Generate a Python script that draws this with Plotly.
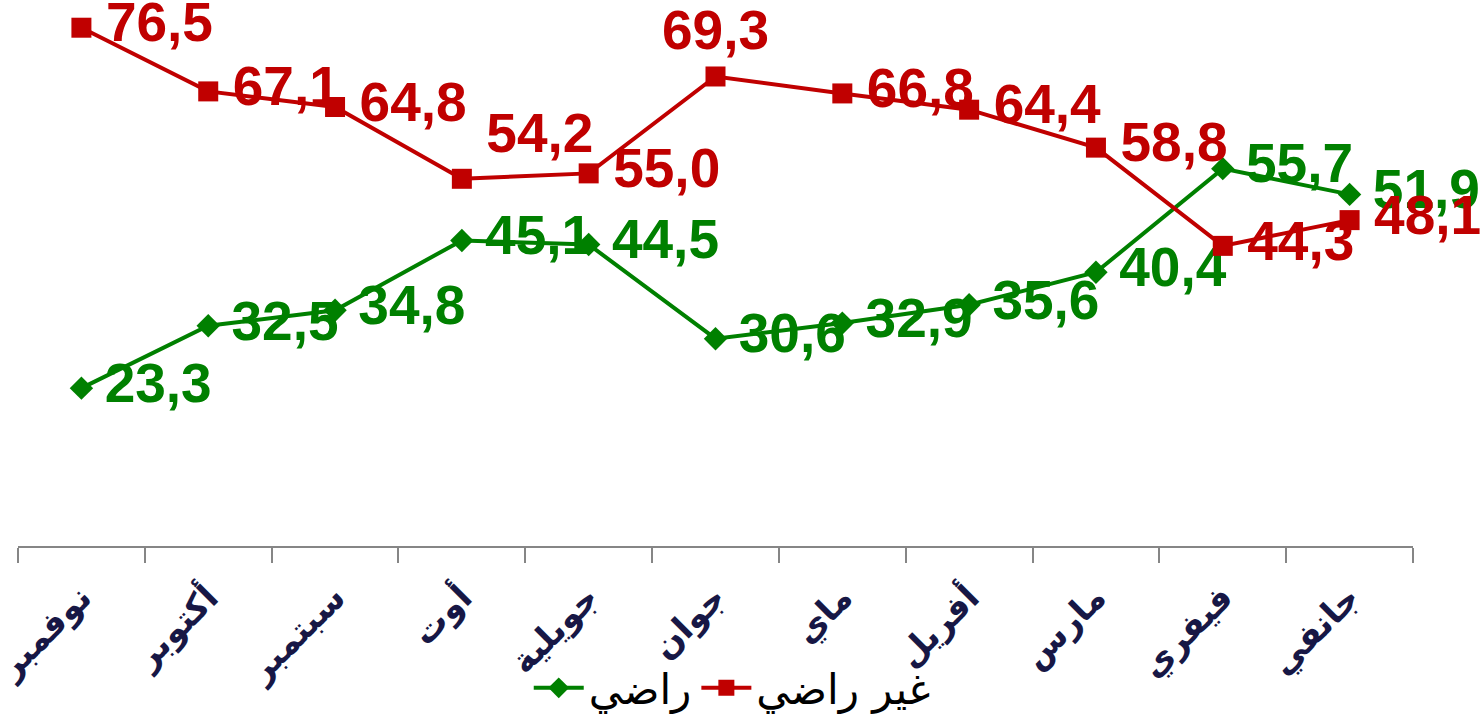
import plotly.graph_objects as go

months = ["نوفمبر", "أكتوبر", "سبتمبر", "أوت", "جويلية", "جوان", "ماي", "أفريل", "مارس", "فيفري", "جانفي"]
satisfied = [23.3, 32.5, 34.8, 45.1, 44.5, 30.6, 32.9, 35.6, 40.4, 55.7, 51.9]
unsatisfied = [76.5, 67.1, 64.8, 54.2, 55.0, 69.3, 66.8, 64.4, 58.8, 44.3, 48.1]
name_sat = "راضي"
name_unsat = "غير راضي"

green = "#008000"
red = "#C00000"

pos_sat = ["middle right"] * 11
pos_unsat = ["middle right"] * 11
pos_unsat[3] = "top right"
pos_unsat[5] = "top center"

tmpl_sat = ["\u2009%{y:.1f}"] * 11
tmpl_unsat = ["\u2009%{y:.1f}"] * 11
tmpl_unsat[5] = "%{y:.1f}"

fig = go.Figure()
fig.add_trace(go.Scatter(
    x=months, y=satisfied, name=name_sat, mode="lines+markers+text",
    line=dict(color=green, width=4),
    marker=dict(symbol="diamond", size=18, color=green),
    texttemplate=tmpl_sat, textposition=pos_sat, cliponaxis=False,
    textfont=dict(family="Arial", size=55, color=green, weight="bold"),
))
fig.add_trace(go.Scatter(
    x=months, y=unsatisfied, name=name_unsat, mode="lines+markers+text",
    line=dict(color=red, width=4),
    marker=dict(symbol="square", size=20, color=red),
    texttemplate=tmpl_unsat, textposition=pos_unsat, cliponaxis=False,
    textfont=dict(family="Arial", size=55, color=red, weight="bold"),
))

fig.update_layout(
    width=1483, height=714,
    margin=dict(l=18, r=70, t=4, b=168, autoexpand=False),
    paper_bgcolor="white", plot_bgcolor="white",
    separators=", ",
    showlegend=True,
    legend=dict(orientation="h", x=0.512, xanchor="center", y=-0.262, yanchor="middle",
                font=dict(family="DejaVu Sans", size=42, color="black"),
                bgcolor="rgba(0,0,0,0)", itemwidth=50),
    xaxis=dict(type="category", tickson="boundaries", ticks="outside", ticklen=15,
               tickcolor="#868686", tickwidth=2, showline=True, linecolor="#868686",
               linewidth=2, showgrid=False, tickangle=-45, automargin=False,
               ticklabelstandoff=16,
               tickfont=dict(family="DejaVu Sans", size=34, color="#171745", weight="bold"),
               range=[-0.5, 10.5]),
    yaxis=dict(range=[0, 80], visible=False, showgrid=False, zeroline=False, automargin=False),
)

fig.write_html("out.html", config={"displayModeBar": False},
               post_script="document.body.style.margin='0';document.body.style.overflow='hidden';")
